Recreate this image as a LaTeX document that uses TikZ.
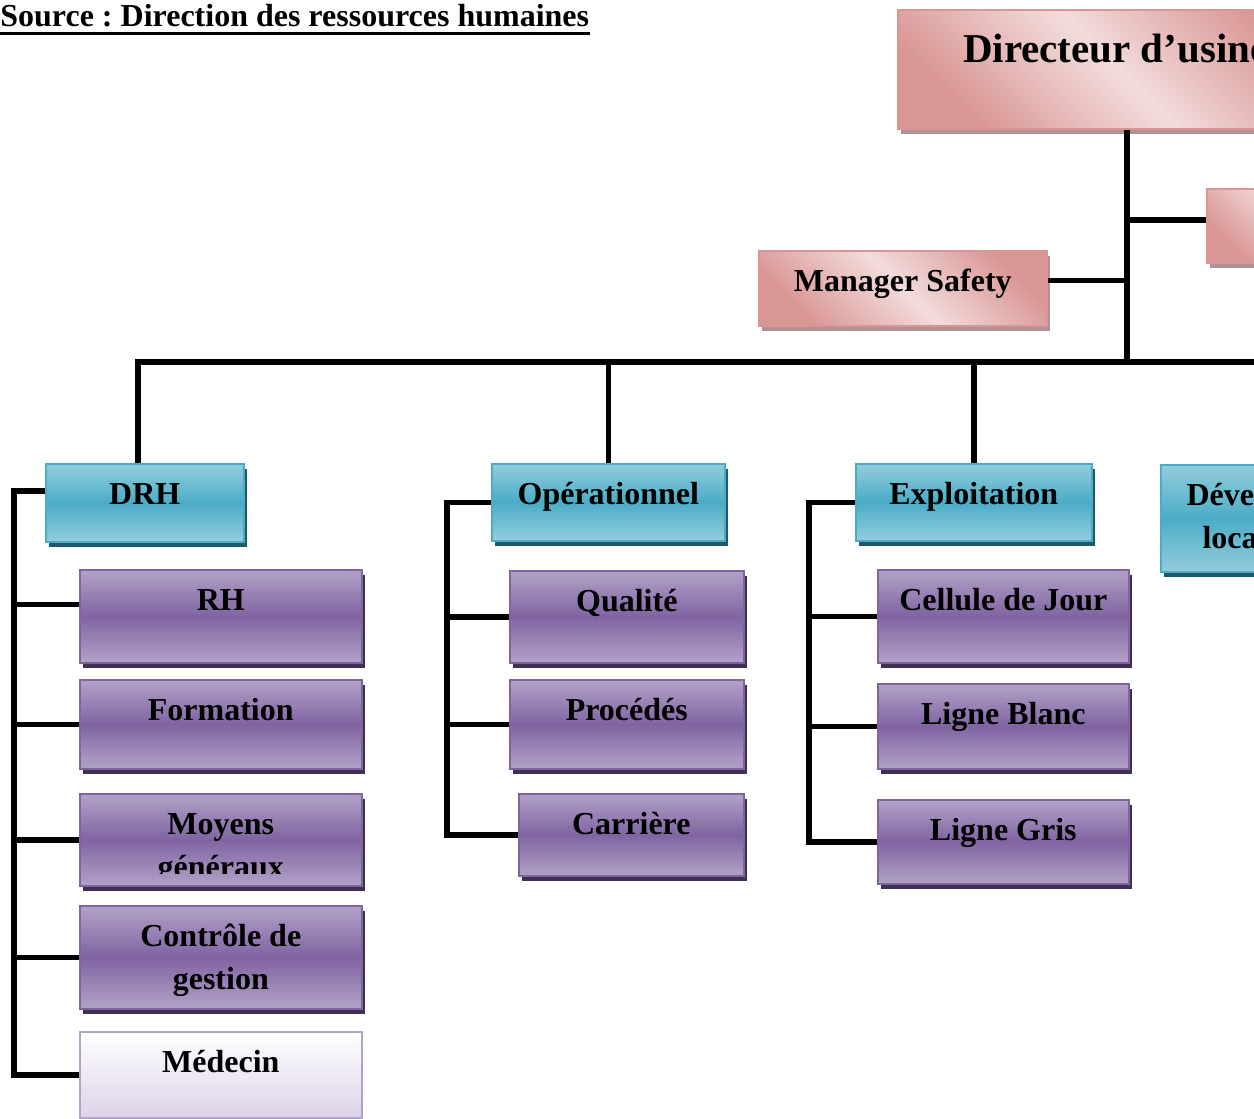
\documentclass[tikz,border=0pt]{standalone}
\usepackage{fontspec}
\setmainfont{Liberation Serif}
\usetikzlibrary{shadows}
\frenchspacing

\definecolor{pinkL}{HTML}{F2DCDB}
\definecolor{pinkD}{HTML}{D99694}
\definecolor{pinkS}{HTML}{AF9294}
\definecolor{tealL}{HTML}{93CDDD}
\definecolor{tealD}{HTML}{4BACC6}
\definecolor{tealS}{HTML}{215968}
\definecolor{purL}{HTML}{B2A2C7}
\definecolor{purD}{HTML}{8064A2}
\definecolor{purS}{HTML}{403152}
\definecolor{medL}{HTML}{DCD3E8}

\tikzset{
	box/.style={rectangle, anchor=north west, inner sep=0pt, line width=0.8pt, align=center,
		font=\bfseries\fontsize{16}{21.5}\selectfont, text height=20.3pt},
	tworows/.style={text height=41.8pt},
	pinkbox/.style={box, draw=pinkD, top color=pinkD, bottom color=pinkD, middle color=pinkL, shading angle=-45,
		drop shadow={shadow xshift=1.5pt, shadow yshift=-2.5pt, fill=pinkS, opacity=1}},
	tealbox/.style={box, draw=tealD, top color=tealL, bottom color=tealL, middle color=tealD,
		drop shadow={shadow xshift=1.5pt, shadow yshift=-2.5pt, fill=tealS, opacity=1}},
	purbox/.style={box, draw=purD, top color=purL, bottom color=purL, middle color=purD,
		drop shadow={shadow xshift=1.5pt, shadow yshift=-2.5pt, fill=purS, opacity=1}},
	medbox/.style={box, draw=purL, top color=white, bottom color=medL},
	link/.style={line width=2.75pt}
}

\begin{document}
\begin{tikzpicture}[x=0.5pt, y=-0.5pt]
	\useasboundingbox (0,0) rectangle (1254,1119);
	\clip (0,0) rectangle (1254,1119);

	\node[anchor=base west, inner sep=0pt, font=\bfseries\fontsize{16}{19}\selectfont] (src) at (0,26) {Source : Direction des ressources humaines};
	\draw[line width=1.6pt] ([yshift=-3.8pt]src.base west) -- ([yshift=-3.8pt]src.base east);

	% direction
	\node[pinkbox, minimum width=218pt, text height=26.3pt, text depth=33.2pt, font=\bfseries\fontsize{20.5}{24}\selectfont] (dir) at (897,9) {Directeur d’usine};
	\node[pinkbox, minimum width=97pt, text depth=16.7pt] (assist) at (1206,188) {};
	\node[pinkbox, minimum width=144pt, text depth=17.2pt] (safety) at (758,250) {Manager Safety};

	% departements
	\node[tealbox, minimum width=99pt, text depth=18.7pt] (drh) at (45,463) {DRH};
	\node[tealbox, minimum width=116.5pt, text depth=18.2pt] (ope) at (491,463) {Opérationnel};
	\node[tealbox, minimum width=118pt, text depth=18.2pt] (expl) at (855,463) {Exploitation};
	\node[tealbox, tworows, minimum width=131.5pt, text depth=11.7pt, align=left] (dev) at (1160,464) {Développement\\\hspace*{8pt}local};

	% services
	\node[purbox, minimum width=141pt, text depth=26.2pt] (rh) at (79,569) {RH};
	\node[purbox, minimum width=141pt, text depth=24.2pt] (form) at (79,679) {Formation};
	\node[purbox, minimum width=141pt, text depth=25.7pt] (moy) at (79,793) {};
	\begin{scope}
		\clip (moy.north west) rectangle ([yshift=6.5pt]moy.south east);
		\node[box, tworows, minimum width=141pt, text depth=4.2pt] (moytxt) at (moy.north west) {Moyens\\généraux};
	\end{scope}
	\node[purbox, tworows, minimum width=141pt, text depth=9.7pt] (ctrl) at (79,905) {Contrôle de\\gestion};
	\node[medbox, minimum width=141pt, text depth=22.7pt] (med) at (79,1031) {Médecin};

	\node[purbox, minimum width=117pt, text depth=25.7pt] (qual) at (509,570) {Qualité};
	\node[purbox, minimum width=117pt, text depth=24.2pt] (proc) at (509,679) {Procédés};
	\node[purbox, minimum width=112.5pt, text depth=20.7pt] (carr) at (518,793) {Carrière};

	\node[purbox, minimum width=125.5pt, text depth=26.2pt] (cell) at (877,569) {Cellule de Jour};
	\node[purbox, minimum width=125.5pt, text depth=22.2pt] (blanc) at (877,683) {Ligne Blanc};
	\node[purbox, minimum width=125.5pt, text depth=21.7pt] (gris) at (877,799) {Ligne Gris};

	% liaisons
	\coordinate (trunk) at (1127,362);
	\coordinate (busend) at (1300,362);
	\draw[link] (dir.south -| trunk) -- (trunk);
	\draw[link] ([yshift=3pt]assist.west) -- ([yshift=3pt]assist.west -| trunk);
	\draw[link] ([yshift=4pt]safety.east) -- ([yshift=4pt]safety.east -| trunk);
	\draw[link] ([xshift=-3.5pt]drh.north) |- (busend);
	\draw[link] (ope.north) -- (ope.north |- busend);
	\draw[link] (expl.north) -- (expl.north |- busend);

	\coordinate (spdrh) at (14,0);
	\draw[link] ([yshift=6pt]drh.west) -| (spdrh |- med.west) -- (med.west);
	\draw[link] ([yshift=6pt]rh.west) -- ([yshift=6pt]rh.west -| spdrh);
	\foreach \n in {form,moy,ctrl}
		\draw[link] (\n.west) -- (\n.west -| spdrh);

	\coordinate (spope) at (447,0);
	\draw[link] (ope.west) -| (spope |- carr.west) -- (carr.west);
	\foreach \n in {qual,proc}
		\draw[link] (\n.west) -- (\n.west -| spope);

	\coordinate (spexpl) at (809,0);
	\draw[link] (expl.west) -| (spexpl |- gris.west) -- (gris.west);
	\foreach \n in {cell,blanc}
		\draw[link] (\n.west) -- (\n.west -| spexpl);
\end{tikzpicture}
\end{document}
